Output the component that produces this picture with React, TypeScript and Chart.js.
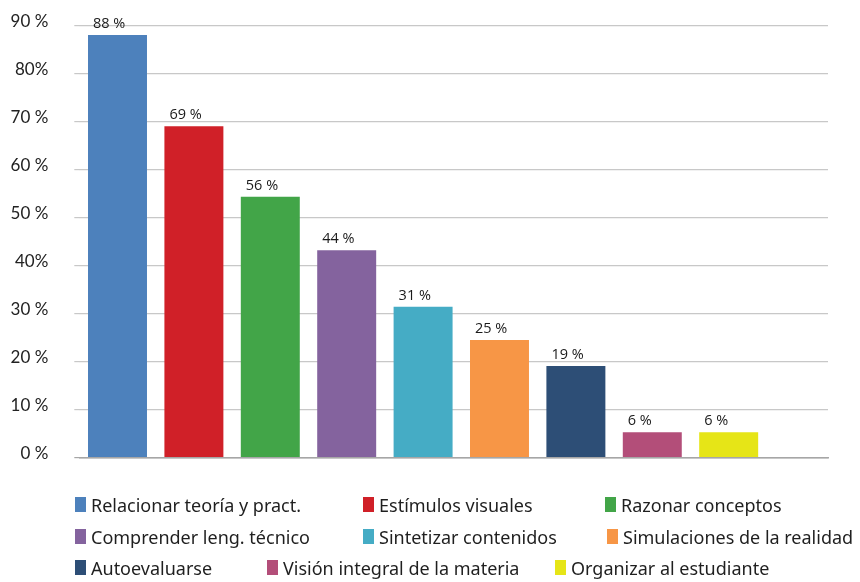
import React, { useEffect, useRef } from "react";
import { Chart, registerables } from "chart.js";

Chart.register(...registerables);

// ---- data ----
const categories = [
  "Relacionar teoría y pract.",
  "Estímulos visuales",
  "Razonar conceptos",
  "Comprender leng. técnico",
  "Sintetizar contenidos",
  "Simulaciones de la realidad",
  "Autoevaluarse",
  "Visión integral de la materia",
  "Organizar al estudiante",
];
const values = [88, 69, 54.3, 43.2, 31.4, 24.5, 19.1, 5.3, 5.3];
const valueLabels = ["88 %", "69 %", "56 %", "44 %", "31 %", "25 %", "19 %", "6 %", "6 %"];
const colors = [
  "#4d81bc",
  "#d02028",
  "#42a548",
  "#84639e",
  "#45acc5",
  "#f79646",
  "#2d4e76",
  "#b34e79",
  "#e6e517",
];
const yTickValues = [0, 10, 20, 30, 40, 50, 60, 70, 80, 90];
const yTickLabels = ["0 %", "10 %", "20 %", "30 %", "40%", "50 %", "60 %", "70 %", "80%", "90 %"];

// ---- layout (legend) ----
const legendRowTops = [493, 524.5, 556];
const legendItemLefts = [
  [75, 363, 605],
  [75, 363, 607],
  [75, 267, 555],
];

const valueLabelPlugin = {
  id: "valueLabels",
  afterDatasetsDraw(chart: any) {
    const ctx = chart.ctx;
    const meta = chart.getDatasetMeta(0);
    ctx.save();
    ctx.font = "14.5px 'Open Sans'";
    ctx.fillStyle = "#1a1a1a";
    ctx.textAlign = "left";
    ctx.textBaseline = "alphabetic";
    meta.data.forEach((bar: any, i: number) => {
      const { x, y, width } = bar.getProps(["x", "y", "width"], true);
      ctx.fillText(valueLabels[i], x - width / 2 + 5, y - 7);
    });
    ctx.restore();
  },
};

export default function App() {
  const ref = useRef<HTMLCanvasElement>(null);

  useEffect(() => {
    const chart = new Chart(ref.current as HTMLCanvasElement, {
      type: "bar",
      data: {
        datasets: [
          {
            label: "valores",
            data: values.map((v, i) => ({ x: i, y: v })),
            backgroundColor: colors,
            borderWidth: 0,
            categoryPercentage: 1,
            barPercentage: 0.772,
          },
        ],
      },
      options: {
        responsive: false,
        animation: false,
        layout: { padding: { top: 25.3, right: 32, bottom: 124.3, left: 0 } },
        plugins: { legend: { display: false }, tooltip: { enabled: false } },
        scales: {
          x: {
            type: "linear",
            min: -0.5,
            max: 9.3,
            offset: false,
            grid: { display: false, drawTicks: false },
            ticks: { display: false },
            border: { display: true, color: "#a6a6a6", width: 1.5 },
            afterFit: (s: any) => {
              s.height = 0;
              s.paddingLeft = 0;
              s.paddingRight = 0;
            },
          },
          y: {
            min: 0,
            max: 90,
            afterBuildTicks: (s: any) => {
              s.ticks = yTickValues.map((v) => ({ value: v }));
            },
            ticks: {
              padding: 26,
              labelOffset: -4,
              color: "#222",
              font: { family: "Lato", size: 17 },
              callback: (value: any) => {
                const i = yTickValues.indexOf(Number(value));
                return i >= 0 ? yTickLabels[i] : "";
              },
            },
            grid: {
              color: (c: any) => (c.tick && c.tick.value === 0 ? "#a6a6a6" : "#c8c8c8"),
              lineWidth: 1.2,
              tickLength: 5,
              drawTicks: true,
            },
            border: { display: false },
            afterFit: (s: any) => {
              s.width = 79.3;
              s.paddingTop = 0;
              s.paddingBottom = 0;
            },
          },
        },
      } as any,
      plugins: [valueLabelPlugin],
    });
    return () => chart.destroy();
  }, []);

  return (
    <div
      style={{
        position: "fixed",
        left: 0,
        top: 0,
        width: 860,
        height: 582,
        background: "#ffffff",
        overflow: "hidden",
      }}
    >
      <canvas ref={ref} width={860} height={582} style={{ display: "block" }} />
      {legendItemLefts.map((row, r) =>
        row.map((left, c) => {
          const idx = r * 3 + c;
          return (
            <div
              key={idx}
              style={{
                position: "absolute",
                left,
                top: legendRowTops[r],
                height: 24,
                fontFamily: "'Noto Sans'",
                fontSize: 18,
                lineHeight: "24px",
                color: "#1f1f1f",
                whiteSpace: "nowrap",
              }}
            >
              <span
                style={{
                  position: "absolute",
                  left: 0,
                  top: 4.3,
                  width: 11,
                  height: 15,
                  background: colors[idx],
                }}
              />
              <span style={{ position: "absolute", left: 16, top: 0 }}>{categories[idx]}</span>
            </div>
          );
        })
      )}
    </div>
  );
}
